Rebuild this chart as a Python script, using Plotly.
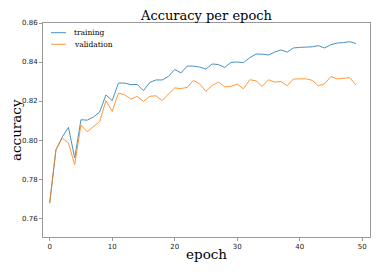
import plotly.graph_objects as go

epochs = list(range(50))
training = [0.7677, 0.7950, 0.8015, 0.8065, 0.7908, 0.8104, 0.8102, 0.8118, 0.8144, 0.8231,
            0.8202, 0.8292, 0.8292, 0.8284, 0.8285, 0.8253, 0.8295, 0.8308, 0.8308, 0.8326,
            0.8362, 0.8344, 0.8379, 0.8379, 0.8374, 0.8364, 0.8390, 0.8387, 0.8372, 0.8398,
            0.8400, 0.8397, 0.8422, 0.8441, 0.8440, 0.8436, 0.8451, 0.8462, 0.8451, 0.8472,
            0.8475, 0.8475, 0.8478, 0.8484, 0.8472, 0.8489, 0.8497, 0.8500, 0.8504, 0.8495]
validation = [0.7677, 0.7950, 0.8010, 0.7985, 0.7873, 0.8077, 0.8043, 0.8067, 0.8095, 0.8202,
              0.8147, 0.8241, 0.8232, 0.8210, 0.8224, 0.8198, 0.8224, 0.8227, 0.8202, 0.8236,
              0.8267, 0.8264, 0.8270, 0.8306, 0.8288, 0.8250, 0.8280, 0.8297, 0.8273, 0.8275,
              0.8287, 0.8263, 0.8309, 0.8304, 0.8275, 0.8309, 0.8297, 0.8300, 0.8278, 0.8313,
              0.8313, 0.8314, 0.8306, 0.8278, 0.8289, 0.8326, 0.8313, 0.8318, 0.8320, 0.8282]
series_names = ["training", "validation"]
series_colors = ["#1f77b4", "#ff7f0e"]
x_ticks = [0, 10, 20, 30, 40, 50]
y_ticks = [0.76, 0.78, 0.80, 0.82, 0.84, 0.86]

fig = go.Figure()
for name, ys, col in zip(series_names, [training, validation], series_colors):
    fig.add_trace(go.Scatter(x=epochs, y=ys, mode="lines", name=name, opacity=0.8,
                             line=dict(color=col, width=1), showlegend=False))

# page body has an 8px offset; compensate so the on-screen layout matches
OFF = 8
W, H = 381, 272
L, T = 43 - OFF, 23 - OFF
pw, ph = 327, 214
R, B = W - L - pw, H - T - ph

def px(xs):
    return (xs - OFF - L) / pw
def py(ys):
    return 1 - (ys - OFF - T) / ph

for i, (name, col) in enumerate(zip(series_names, series_colors)):
    yy = 32.7 + i * 11.6
    fig.add_shape(type="line", xref="paper", yref="paper",
                  x0=px(51), x1=px(66), y0=py(yy), y1=py(yy),
                  line=dict(color=col, width=1), opacity=0.8)
    fig.add_annotation(xref="paper", yref="paper", x=px(72), y=py(yy),
                       xanchor="left", yanchor="middle", showarrow=False, text=name,
                       font=dict(family="DejaVu Serif", size=7.5, color="black"))

# axis titles
fig.add_annotation(xref="paper", yref="paper", x=px(206.8), y=py(254),
                   xanchor="center", yanchor="middle", showarrow=False, text="epoch",
                   font=dict(family="DejaVu Serif", size=13.5, color="black"))
fig.add_annotation(xref="paper", yref="paper", x=px(16), y=py(130),
                   xanchor="center", yanchor="middle", showarrow=False, text="accuracy",
                   textangle=-90,
                   font=dict(family="DejaVu Serif", size=13.5, color="black"))
# title
fig.add_annotation(xref="paper", yref="paper", x=px(206.8), y=py(15.5),
                   xanchor="center", yanchor="middle", showarrow=False,
                   text="Accuracy per epoch",
                   font=dict(family="DejaVu Serif", size=13, color="black"))

axis_common = dict(showline=True, linecolor="#999999", linewidth=1, mirror=True,
                   ticks="outside", ticklen=3, tickcolor="#999999", tickwidth=1,
                   showgrid=False, zeroline=False, automargin=False,
                   tickfont=dict(family="DejaVu Sans", size=7, color="#222222"))

fig.update_layout(
    width=W, height=H,
    margin=dict(l=L, r=R, t=T, b=B),
    paper_bgcolor="white", plot_bgcolor="white",
    xaxis=dict(range=[-1.07, 51.25], tickvals=x_ticks, **axis_common),
    yaxis=dict(range=[0.7503, 0.86], tickvals=y_ticks, tickformat=".2f", **axis_common),
    showlegend=False,
)

fig.write_html("out.html")
